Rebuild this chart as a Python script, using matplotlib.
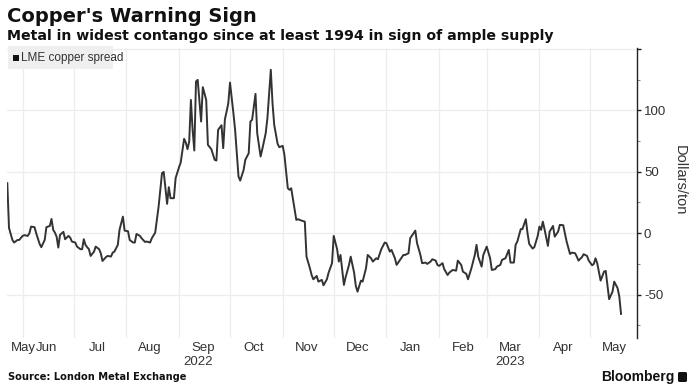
import matplotlib
matplotlib.use("Agg")
import matplotlib.pyplot as plt
import matplotlib.patches as mpatches
import pandas as pd

# ---------------- data ----------------
start_date = "2022-05-23"
day_offsets = [
    0, 1, 3, 4, 6, 7, 9, 10, 12, 13, 14, 16, 17, 19, 20, 22, 23, 25, 26, 27,
    28, 29, 30, 31, 33, 34, 36, 37, 38, 40, 41, 43, 44, 45, 46, 47, 48, 49, 51, 52,
    54, 55, 56, 58, 59, 61, 62, 63, 65, 66,
    68, 69, 71, 72, 74, 75, 76, 78, 79, 81, 82, 84, 85, 87, 88, 89, 91, 92, 94, 95,
    96, 98, 99, 101, 102, 104, 105, 106, 107, 108, 109, 110, 111, 112, 114, 115, 117, 118, 120,
    122, 123, 124, 126, 127, 128, 129, 130, 131, 133, 134, 136, 137, 139, 140, 142, 143, 144,
    146, 147, 149, 150, 152, 153, 155, 156, 157, 159, 160, 162, 163, 165, 166, 167, 170, 171,
    173, 175,
    176, 178, 179, 180, 182, 183, 185, 186, 188, 189, 191, 192, 194, 195, 196, 198, 199, 201,
    202, 204, 205, 206, 208, 209, 211, 212, 214, 215, 217, 218, 220, 222, 223, 225, 226, 228,
    229, 231, 233, 234, 236, 237, 240, 241, 243,
    244, 246, 247, 249, 250, 252, 253, 254, 256, 257, 259, 260, 262, 264, 265, 267, 268, 270,
    271, 273, 275, 276, 277, 279, 280, 282, 284, 285, 287, 288, 290, 291, 293, 295, 296, 298,
    299, 300, 302, 303, 305, 306, 307,
    309, 310, 312, 313, 314, 315, 316, 318, 319, 321, 322, 324, 325, 327, 328, 329, 331, 332,
    334, 335, 336, 338, 339, 341, 342, 344, 345, 346, 347, 348, 349, 351, 352, 354, 356, 357,
    359, 360, 361,
]
spread = [
    40.7, 4.3, -5.5, -7.6, -5.5, -5.5, -2.2, -1.6, -2.2, 0.0, 5.4, 4.9, 0.0, -8.7, -11.4, -5.5, 4.9, 5.9, 11.6, 2.7,
    0.5, -2.8, -11.7, -1.4, 1.1, -4.9, -2.2, -3.6, -6.8, -7.6, -10.9, -13.0, -13.0, -4.9, -9.5, -11.4, -13.0, -18.5, -15.0, -10.9,
    -13.0, -16.3, -22.6, -19.5, -18.5, -19.0, -15.8, -15.0, -9.5, 2.7,
    13.5, 2.1, 1.6, -5.5, -7.6, -7.6, -0.6, -2.2, -4.1, -7.1, -6.8, -7.6, -4.1, 0.5, 11.4, 21.7, 48.9, 49.9, 23.9, 37.5,
    28.5, 28.5, 44.8, 53.7, 57.5, 76.8, 73.8, 68.4, 74.6, 108.5, 84.1, 67.3, 123.5, 124.8, 90.9, 118.9, 108.5, 71.9, 68.4,
    59.7, 59.1, 84.1, 87.9, 69.2, 92.8, 99.0, 105.9, 122.6, 97.7, 84.1, 46.1, 42.8, 51.5, 59.7, 65.1, 90.9, 92.3,
    113.4, 81.4, 62.4, 68.4, 81.4, 93.6, 133.0, 105.9, 88.2, 72.7, 70.0, 71.1, 63.8, 36.6, 35.3, 36.6, 10.8, 11.4,
    10.3, 9.4,
    -19.1, -28.5, -34.0, -37.5, -34.8, -39.4, -38.0, -42.4, -37.5, -32.1, -24.4, -2.2, -13.0, -23.1, -17.7, -42.1, -35.8, -25.8,
    -19.1, -32.1, -42.9, -47.6, -38.6, -39.4, -28.5, -17.7, -20.4, -23.1, -20.4, -21.2, -13.0, -7.6, -8.1, -15.0, -13.6, -20.4,
    -25.8, -21.7, -17.7, -17.7, -16.3, -4.1, 2.1, -8.0, -17.7,
    -24.4, -23.9, -25.0, -23.1, -21.2, -22.3, -25.8, -26.6, -24.4, -29.3, -34.0, -32.1, -29.9, -30.5, -22.3, -25.8, -31.3, -33.1,
    -37.5, -28.5, -17.7, -9.5, -19.1, -27.2, -17.7, -10.9, -20.4, -29.9, -29.3, -27.2, -25.8, -21.7, -20.4, -13.6, -23.9, -23.9,
    -9.5, -6.8, 3.3, 3.3, 11.4, 0.0, -8.7,
    -12.5, -11.4, -2.2, 5.4, 2.7, 9.4, 3.3, -10.3, 1.3, 5.9, -2.8, 1.3, 6.8, 6.5, 0.0, -6.8, -16.9, -15.8,
    -16.3, -19.1, -22.3, -19.5, -17.1, -18.5, -22.3, -26.1, -25.0, -20.4, -24.4, -31.3, -38.6, -31.3, -30.7, -53.7, -47.6, -39.4,
    -44.8, -51.6, -65.7,
]
month_labels = ["Jun", "Jul", "Aug", "Sep", "Oct", "Nov", "Dec", "Jan", "Feb", "Mar", "Apr", "May"]
month_starts = pd.date_range("2022-06-01", "2023-05-01", freq="MS")
year_labels = {"2022": "2022-09-12", "2023": "2023-03-15"}
y_ticks = [150, 100, 50, 0, -50]
y_ticklabels = ["", "100", "50", "0", "-50"]
y_minor = [125, 75, 25, -25, -75]

dates = pd.Timestamp(start_date) + pd.to_timedelta(day_offsets, unit="D")

# ---------------- figure ----------------
W, H = 691, 390
fig = plt.figure(figsize=(W / 100, H / 100), dpi=100)
plt.rcParams["font.family"] = ["Liberation Sans Narrow", "Liberation Sans", "DejaVu Sans"]

x0, x1, yt, yb = 7.3, 637, 48.3, 338
ax = fig.add_axes([x0 / W, 1 - yb / H, (x1 - x0) / W, (yb - yt) / H])

ax.plot(dates, spread, color="#333333", lw=1.4, solid_joinstyle="round", zorder=3)

ax.set_xlim(pd.Timestamp(start_date), pd.Timestamp(start_date) + pd.Timedelta(days=370.4))
ax.set_ylim(-85.3, 150.5)

for s in ["top", "left", "bottom"]:
    ax.spines[s].set_visible(False)
ax.spines["right"].set_color("#222222")
ax.spines["right"].set_linewidth(1.0)

ax.yaxis.tick_right()
ax.set_yticks(y_ticks)
ax.set_yticklabels(y_ticklabels)
ax.set_yticks(y_minor, minor=True)
ax.tick_params(axis="y", which="major", direction="out", length=3, width=1,
               color="#222222", labelsize=9.5, labelcolor="#333333", pad=2)
ax.tick_params(axis="y", which="minor", direction="out", length=2, width=0.8, color="#888888")

ax.set_xticks(month_starts)
ax.set_xticklabels([])
ax.tick_params(axis="x", which="both", length=0)
ax.grid(True, which="major", color="#ededed", lw=0.9, zorder=0)

tr = ax.get_xaxis_transform()
ax_h = yb - yt
lab_y = -(348 - yb) / ax_h
yr_y = -(362 - yb) / ax_h
for ms, lab in zip(month_starts, month_labels):
    mid = ms + pd.Timedelta(days=14)
    ax.text(mid, lab_y, lab, transform=tr, ha="center", va="center",
            fontsize=9.5, color="#333333", clip_on=False)
ax.text(pd.Timestamp(start_date) + pd.Timedelta(days=2), lab_y, "May", transform=tr,
        ha="left", va="center", fontsize=9.5, color="#333333", clip_on=False)
for lab, d in year_labels.items():
    ax.text(pd.Timestamp(d), yr_y, lab, transform=tr, ha="center", va="center",
            fontsize=9.5, color="#333333", clip_on=False)

fig.text(680 / W, 1 - 180 / H, "Dollars/ton", rotation=270, ha="center", va="center",
         fontsize=10.5, color="#333333")

# legend
fig.patches.append(mpatches.Rectangle((8 / W, 1 - 69 / H), 105 / W, 23 / H,
                                      transform=fig.transFigure, facecolor="#efefef",
                                      edgecolor="none", zorder=1))
fig.patches.append(mpatches.Rectangle((13 / W, 1 - 61 / H), 6 / W, 6 / H,
                                      transform=fig.transFigure, facecolor="#111111",
                                      edgecolor="none", zorder=2))
fig.text(21 / W, 1 - 58 / H, "LME copper spread", ha="left", va="center",
         fontsize=8.5, color="#333333", zorder=3)

# titles
fig.text(7 / W, 1 - 16 / H, "Copper's Warning Sign", ha="left", va="center",
         fontsize=14, fontweight="bold", color="#111111", family=["DejaVu Sans"])
fig.text(7 / W, 1 - 36 / H, "Metal in widest contango since at least 1994 in sign of ample supply",
         ha="left", va="center", fontsize=10.2, fontweight="bold", color="#111111",
         family=["DejaVu Sans"])

# footer
fig.text(8 / W, 1 - 377 / H, "Source: London Metal Exchange", ha="left", va="center",
         fontsize=7.1, fontweight="bold", color="#111111", family=["DejaVu Sans"])
fig.text(674 / W, 1 - 377 / H, "Bloomberg", ha="right", va="center",
         fontsize=10, fontweight="bold", color="#111111", family=["Liberation Sans", "DejaVu Sans"])
fig.patches.append(mpatches.FancyBboxPatch((678 / W, 1 - 382 / H), 9 / W, 10 / H,
                                           boxstyle="round,pad=0,rounding_size=0.003",
                                           transform=fig.transFigure, facecolor="#111111",
                                           edgecolor="none"))

fig.savefig("out.png", dpi=100, facecolor="white")
